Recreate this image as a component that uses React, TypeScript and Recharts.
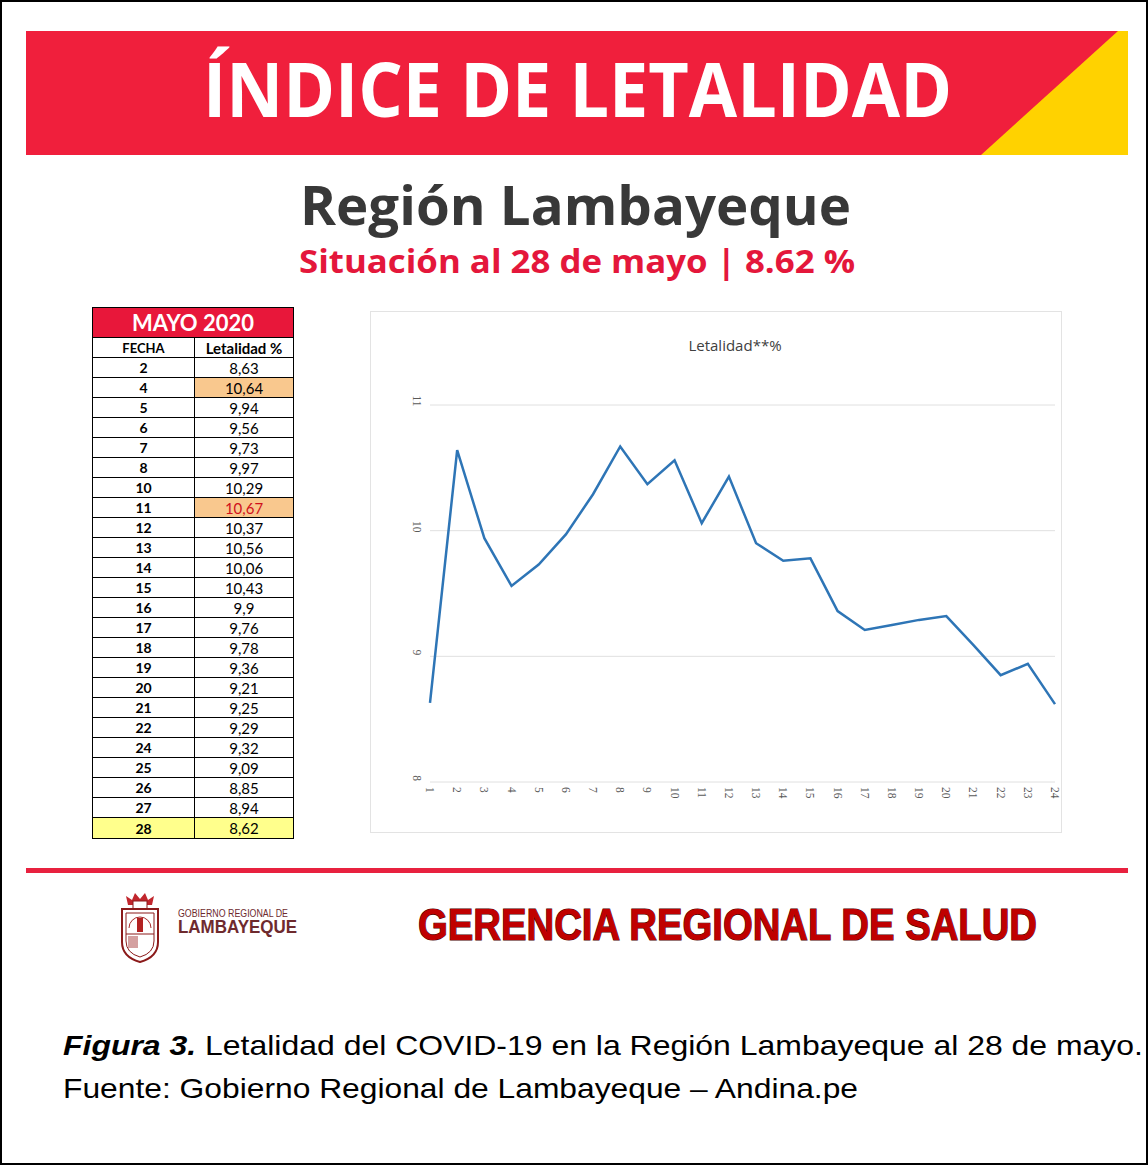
import React from 'react';
import { LineChart, Line, XAxis, YAxis, CartesianGrid } from 'recharts';

// días del reporte (columna FECHA de la tabla)
const fechas = [2, 4, 5, 6, 7, 8, 10, 11, 12, 13, 14, 15, 16, 17, 18, 19, 20, 21, 22, 24, 25, 26, 27, 28];
// letalidad % por día
const letalidad = [
  8.63, 10.64, 9.94, 9.56, 9.73, 9.97, 10.29, 10.67, 10.37, 10.56, 10.06, 10.43,
  9.9, 9.76, 9.78, 9.36, 9.21, 9.25, 9.29, 9.32, 9.09, 8.85, 8.94, 8.62,
];
// etiquetas del eje X del gráfico (número de registro)
const puntos = [1, 2, 3, 4, 5, 6, 7, 8, 9, 10, 11, 12, 13, 14, 15, 16, 17, 18, 19, 20, 21, 22, 23, 24];
const yTicks = [8, 9, 10, 11];

const serie = puntos.map((p, i) => ({ punto: p, valor: letalidad[i] }));

const fmt = (v: number) => String(v).replace('.', ',');

const XTick = (props: any) => {
  const { x, payload } = props;
  return (
    <text
      transform={`translate(${x},476) rotate(90)`}
      textAnchor="start"
      dominantBaseline="central"
      fontFamily="Liberation Serif, serif"
      fontSize={11.5}
      fill="#595959"
    >
      {payload.value}
    </text>
  );
};

const YTick = (props: any) => {
  const { y, payload } = props;
  return (
    <text
      transform={`translate(47,${y - 4}) rotate(90)`}
      textAnchor="middle"
      dominantBaseline="central"
      fontFamily="Liberation Serif, serif"
      fontSize={11.5}
      fill="#595959"
    >
      {payload.value}
    </text>
  );
};

function Tabla() {
  const cell: React.CSSProperties = {
    display: 'flex',
    alignItems: 'center',
    justifyContent: 'center',
    height: '100%',
    boxSizing: 'border-box',
  };
  return (
    <div
      style={{
        position: 'absolute',
        left: 92,
        top: 307,
        width: 200,
        border: '1px solid #000',
        fontFamily: 'Lato, sans-serif',
        color: '#000',
        background: '#fff',
      }}
    >
      <div
        style={{
          ...cell,
          height: 30,
          background: '#e8173a',
          color: '#fff',
          fontWeight: 700,
          fontSize: 22,
          borderBottom: '1px solid #000',
        }}
      >
        MAYO 2020
      </div>
      <div style={{ display: 'flex', height: 20, borderBottom: '1px solid #000', boxSizing: 'border-box' }}>
        <div style={{ ...cell, width: 102, borderRight: '1px solid #000', fontWeight: 700, fontSize: 13 }}>FECHA</div>
        <div style={{ ...cell, flex: 1, fontWeight: 700, fontSize: 15 }}>Letalidad %</div>
      </div>
      {fechas.map((f, i) => {
        const pico = f === 4 || f === 11;
        const ultimo = i === fechas.length - 1;
        return (
          <div
            key={f}
            style={{
              display: 'flex',
              height: 20,
              borderBottom: ultimo ? 'none' : '1px solid #000',
              boxSizing: 'border-box',
            }}
          >
            <div
              style={{
                ...cell,
                width: 102,
                borderRight: '1px solid #000',
                fontWeight: 700,
                fontSize: 14,
                background: ultimo ? '#ffff8c' : '#fff',
              }}
            >
              {f}
            </div>
            <div
              style={{
                ...cell,
                flex: 1,
                fontSize: 15,
                background: pico ? '#f9c88e' : ultimo ? '#ffff8c' : '#fff',
                color: f === 11 ? '#d0101a' : '#000',
              }}
            >
              {fmt(letalidad[i])}
            </div>
          </div>
        );
      })}
    </div>
  );
}

function Grafico() {
  return (
    <div
      style={{
        position: 'absolute',
        left: 370,
        top: 311,
        width: 692,
        height: 522,
        border: '1px solid #e3e3e3',
        boxSizing: 'border-box',
        background: '#fff',
      }}
    >
      <div
        style={{
          position: 'absolute',
          left: 264,
          top: 23,
          width: 200,
          textAlign: 'center',
          fontFamily: 'Open Sans, sans-serif',
          fontSize: 15,
          color: '#404040',
        }}
      >
        Letalidad**%
      </div>
      <div style={{ position: 'absolute', left: -1, top: -1 }}>
        <LineChart width={692} height={522} data={serie} margin={{ top: 94, right: 7, left: 0, bottom: 0 }}>
          <CartesianGrid vertical={false} stroke="#e0e0e0" />
          <XAxis dataKey="punto" axisLine={false} tickLine={false} height={51} interval={0} tick={<XTick />} />
          <YAxis
            domain={[8, 11]}
            ticks={yTicks}
            width={60}
            axisLine={false}
            tickLine={false}
            tick={<YTick />}
          />
          <Line
            type="linear"
            dataKey="valor"
            stroke="#2e75b6"
            strokeWidth={2.5}
            dot={false}
            isAnimationActive={false}
          />
        </LineChart>
      </div>
    </div>
  );
}

export default function App() {
  return (
    <div style={{ position: 'absolute', left: 0, top: 0, width: 1148, height: 1165, background: '#fff' }}>
      <svg width={1148} height={1165} style={{ position: 'absolute', left: 0, top: 0 }}>
        <rect x={1} y={1} width={1146} height={1163} fill="none" stroke="#000" strokeWidth={2} />
        {/* banda superior */}
        <rect x={26} y={31} width={1102} height={124} fill="#f01f3c" />
        <polygon points="1118,31 1128,31 1128,155 981,155" fill="#ffd200" />
        <text
          x={203}
          y={117}
          fontFamily="Open Sans, sans-serif"
          fontWeight={700}
          fontSize={76}
          fill="#fff"
          textLength={749}
          lengthAdjust="spacingAndGlyphs"
        >
          ÍNDICE DE LETALIDAD
        </text>
        <text
          x={300}
          y={225}
          fontFamily="Open Sans, sans-serif"
          fontWeight={700}
          fontSize={54}
          fill="#383838"
          textLength={551}
          lengthAdjust="spacingAndGlyphs"
        >
          Región Lambayeque
        </text>
        <text
          x={299}
          y={273}
          fontFamily="Open Sans, sans-serif"
          fontWeight={700}
          fontSize={32}
          fill="#e4173b"
          textLength={556}
          lengthAdjust="spacingAndGlyphs"
        >
          Situación al 28 de mayo | 8.62 %
        </text>

        {/* línea roja inferior */}
        <rect x={26} y={868} width={1102} height={5} fill="#e8213f" />

        {/* escudo */}
        <g>
          <path d="M128,905 L126,896 L132,900 L135,893 L140,899 L145,893 L148,900 L154,896 L152,905 Z" fill="#c1272d" />
          <rect x={133} y={901} width={14} height={8} fill="#fff" stroke="#8b1a1a" strokeWidth={1} />
          <path
            d="M122,909 L158,909 L158,942 Q158,957 140,962 Q122,957 122,942 Z"
            fill="#fff"
            stroke="#8b1a1a"
            strokeWidth={2}
          />
          <path d="M126,913 L154,913 L154,941 Q154,953 140,957 Q126,953 126,941 Z" fill="none" stroke="#8b1a1a" strokeWidth={1} />
          <path d="M129,928 A11,11 0 0 1 151,928" fill="none" stroke="#a52a2a" strokeWidth={1} />
          <line x1={126} y1={934} x2={154} y2={934} stroke="#8b1a1a" strokeWidth={1} />
          <rect x={137} y={918} width={6} height={14} fill="#b22222" />
          <rect x={128} y={936} width={10} height={12} fill="#d4a0a0" />
        </g>
        <text
          x={178}
          y={917}
          fontFamily="Liberation Sans, Arial, sans-serif"
          fontSize={10}
          fill="#6e2a2e"
          textLength={110}
          lengthAdjust="spacingAndGlyphs"
        >
          GOBIERNO REGIONAL DE
        </text>
        <text
          x={178}
          y={933}
          fontFamily="Liberation Sans, Arial, sans-serif"
          fontWeight={700}
          fontSize={18}
          fill="#6e2a2e"
          textLength={119}
          lengthAdjust="spacingAndGlyphs"
        >
          LAMBAYEQUE
        </text>
        <text
          x={418}
          y={940}
          fontFamily="Liberation Sans, Arial, sans-serif"
          fontWeight={700}
          fontSize={44}
          fill="#c00000"
          stroke="#4a0000"
          strokeWidth={1.2}
          style={{ paintOrder: 'stroke' }}
          textLength={619}
          lengthAdjust="spacingAndGlyphs"
        >
          GERENCIA REGIONAL DE SALUD
        </text>

        {/* pie de figura */}
        <text
          x={63}
          y={1055}
          fontFamily="Liberation Sans, Arial, sans-serif"
          fontSize={28}
          fill="#000"
          textLength={1080}
          lengthAdjust="spacingAndGlyphs"
        >
          <tspan fontWeight={700} fontStyle="italic">Figura 3.</tspan>
          {' '}Letalidad del COVID-19 en la Región Lambayeque al 28 de mayo.
        </text>
        <text
          x={63}
          y={1098}
          fontFamily="Liberation Sans, Arial, sans-serif"
          fontSize={28}
          fill="#000"
          textLength={795}
          lengthAdjust="spacingAndGlyphs"
        >
          Fuente: Gobierno Regional de Lambayeque – Andina.pe
        </text>
      </svg>
      <Tabla />
      <Grafico />
    </div>
  );
}
